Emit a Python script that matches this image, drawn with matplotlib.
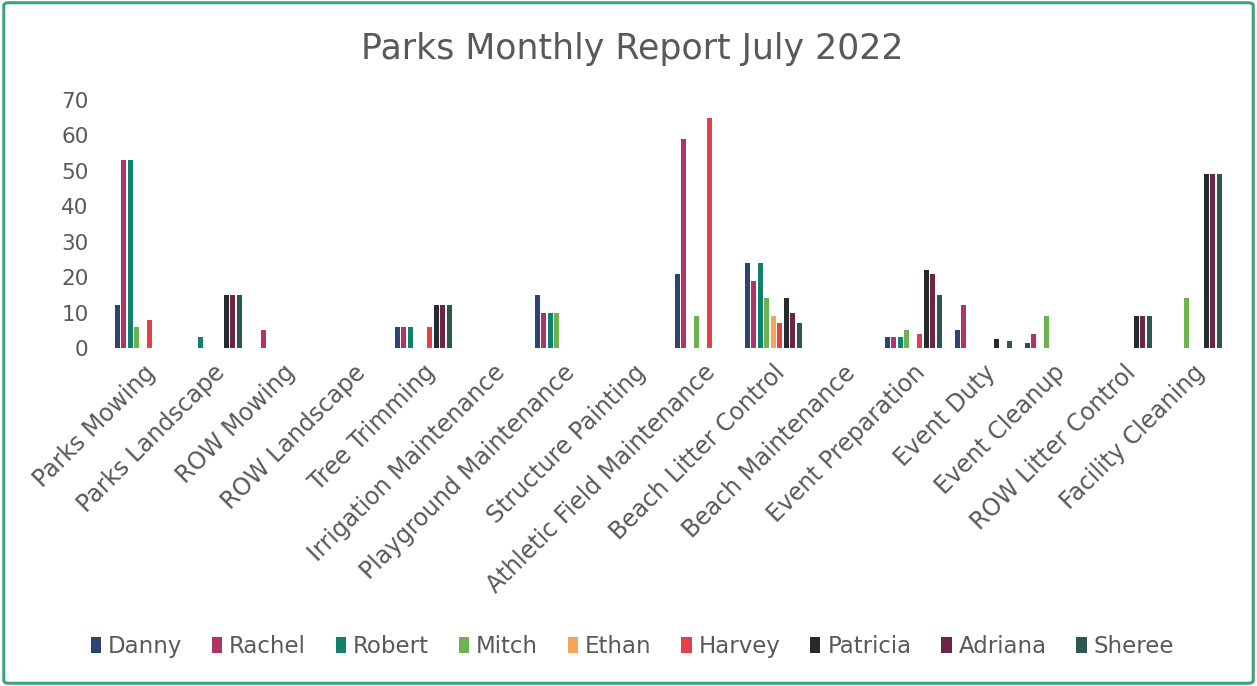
import numpy as np
import matplotlib
matplotlib.use("Agg")
import matplotlib.pyplot as plt
from matplotlib.patches import FancyBboxPatch

categories = ["Parks Mowing", "Parks Landscape", "ROW Mowing", "ROW Landscape",
              "Tree Trimming", "Irrigation Maintenance", "Playground Maintenance",
              "Structure Painting", "Athletic Field Maintenance", "Beach Litter Control",
              "Beach Maintenance", "Event Preparation", "Event Duty", "Event Cleanup",
              "ROW Litter Control", "Facility Cleaning"]

danny    = [12, 0, 0, 0, 6, 0, 15, 0, 21, 24, 0, 3, 5, 1.5, 0, 0]
rachel   = [53, 0, 5, 0, 6, 0, 10, 0, 59, 19, 0, 3, 12, 4, 0, 0]
robert   = [53, 3, 0, 0, 6, 0, 10, 0, 0, 24, 0, 3, 0, 0, 0, 0]
mitch    = [6, 0, 0, 0, 0, 0, 10, 0, 9, 14, 0, 5, 0, 9, 0, 14]
ethan    = [0, 0, 0, 0, 0, 0, 0, 0, 0, 9, 0, 0, 0, 0, 0, 0]
harvey   = [8, 0, 0, 0, 6, 0, 0, 0, 65, 7, 0, 4, 0, 0, 0, 0]
patricia = [0, 15, 0, 0, 12, 0, 0, 0, 0, 14, 0, 22, 2.5, 0, 9, 49]
adriana  = [0, 15, 0, 0, 12, 0, 0, 0, 0, 10, 0, 21, 0, 0, 9, 49]
sheree   = [0, 15, 0, 0, 12, 0, 0, 0, 0, 7, 0, 15, 2, 0, 9, 49]

series_names = ["Danny", "Rachel", "Robert", "Mitch", "Ethan", "Harvey",
                "Patricia", "Adriana", "Sheree"]
series_values = [danny, rachel, robert, mitch, ethan, harvey, patricia, adriana, sheree]
series_colors = ["#2b4570", "#b0336a", "#12806c", "#6cb24e", "#f5a55a", "#e2404a",
                 "#252a2a", "#6e2544", "#2c5750"]

text_color = "#595959"
plt.rcParams["font.family"] = ["DejaVu Sans"]

fig = plt.figure(figsize=(12.57, 6.86), dpi=100)
fig.patch.set_facecolor("white")

# green frame around the whole chart
frame = FancyBboxPatch((0.003, 0.004), 0.994, 0.992, boxstyle="round,pad=0,rounding_size=0.004",
                       transform=fig.transFigure, fill=False, edgecolor="#3aa57a",
                       linewidth=2.2)
fig.patches.append(frame)

ax = fig.add_axes([0.086, 0.4927, 0.891, 0.3615])
x = np.arange(len(categories))
slot = 0.093
bar_w = 0.072
n = len(series_names)
for i, (name, vals, col) in enumerate(zip(series_names, series_values, series_colors)):
    ax.bar(x + (i - (n - 1) / 2) * slot, vals, width=bar_w, color=col, label=name)

ax.set_xlim(-0.5, len(categories) - 0.5)
ax.set_ylim(0, 70)
ax.set_yticks(range(0, 71, 10))
for s in ax.spines.values():
    s.set_visible(False)
ax.tick_params(axis="both", length=0, colors=text_color, labelsize=15.5)
ax.tick_params(axis="y", pad=14)
ax.set_xticks(x)
ax.set_xticklabels(categories, rotation=45, ha="right", rotation_mode="anchor",
                   fontsize=17, color=text_color)
ax.tick_params(axis="x", pad=9)

fig.text(0.503, 0.928, "Parks Monthly Report July 2022", ha="center", va="center",
         fontsize=25, color=text_color)

handles, labels = ax.get_legend_handles_labels()
leg = fig.legend(handles, labels, loc="center", bbox_to_anchor=(0.503, 0.058), ncol=9,
                 frameon=False, fontsize=16.5, handlelength=0.45, handleheight=0.7,
                 handletextpad=0.3, columnspacing=1.3, labelcolor=text_color)

fig.savefig("out.png", dpi=100, facecolor="white")
